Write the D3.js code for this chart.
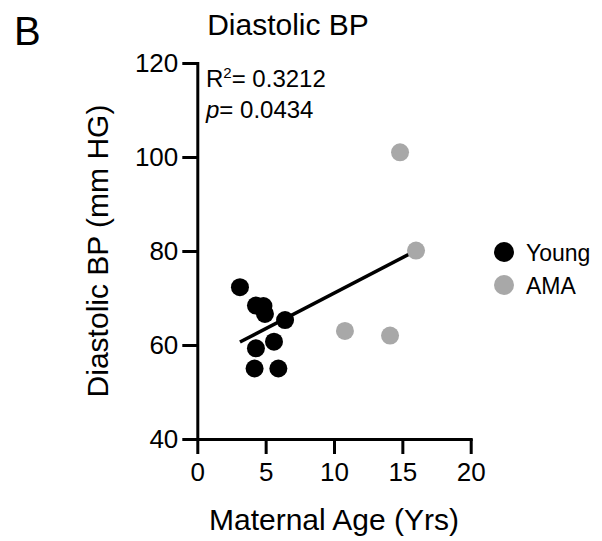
<!DOCTYPE html>
<html>
<head>
<meta charset="utf-8">
<script src="https://cdn.jsdelivr.net/npm/d3@7"></script>
<style>
  body { margin: 0; background: #fff; }
  text { font-family: "Liberation Sans", Arial, sans-serif; fill: #000; }
</style>
</head>
<body>
<div id="viz-container"></div>
<script>
// data
let youngAge = [4.29, 4.84, 4.95, 3.12, 6.42, 4.29, 5.61, 4.19, 5.93];
let youngBP  = [68.4, 68.3, 66.6, 72.3, 65.3, 59.3, 60.7, 55.0, 55.0];
let amaAge = [14.83, 16.0, 10.8, 14.1];
let amaBP  = [101.0, 80.1, 63.0, 62.0];
let xTicks = [0, 5, 10, 15, 20];
let yTicks = [40, 60, 80, 100, 120];
let groups = ['Young', 'AMA'];
let groupColors = ['#000000', '#a8a8a8'];
let statsText = ['0.3212', '0.0434'];

let width = 602;
let height = 541;

let viz = d3.select('#viz-container')
  .append('svg')
  .attr('width', width)
  .attr('height', height);

let xScale = d3.scaleLinear().domain([0, 20]).range([197.3, 470.7]);
let yScale = d3.scaleLinear().domain([40, 120]).range([439, 63]);

let young = youngAge.map((d, i) => ({x: d, y: youngBP[i], g: 0}));
let ama = amaAge.map((d, i) => ({x: d, y: amaBP[i], g: 1}));
let all = young.concat(ama);

// least squares fit over all points
let mx = d3.mean(all, d => d.x);
let my = d3.mean(all, d => d.y);
let sxy = d3.sum(all, d => (d.x - mx) * (d.y - my));
let sxx = d3.sum(all, d => (d.x - mx) * (d.x - mx));
let slope = sxy / sxx;
let intercept = my - slope * mx;
let xExt = d3.extent(all, d => d.x);

// axes
let yAxis = viz.append('g')
  .attr('transform', 'translate(' + xScale(0) + ',0)')
  .call(d3.axisLeft(yScale).tickValues(yTicks).tickSize(15).tickSizeOuter(0).tickPadding(4));

let xAxis = viz.append('g')
  .attr('transform', 'translate(0,' + yScale(40) + ')')
  .call(d3.axisBottom(xScale).tickValues(xTicks).tickSize(15).tickSizeOuter(0).tickPadding(9));

[yAxis, xAxis].forEach(function(ax){
  ax.select('.domain').attr('stroke', '#000').attr('stroke-width', 3).attr('stroke-linecap', 'square');
  ax.selectAll('.tick line').attr('stroke', '#000').attr('stroke-width', 3);
  ax.selectAll('.tick text')
    .attr('font-size', 26)
    .attr('font-family', '"Liberation Sans", Arial, sans-serif')
    .attr('fill', '#000');
});

// regression line
viz.append('line')
  .attr('x1', xScale(xExt[0]))
  .attr('y1', yScale(intercept + slope * xExt[0]))
  .attr('x2', xScale(xExt[1]))
  .attr('y2', yScale(intercept + slope * xExt[1]))
  .attr('stroke', '#000')
  .attr('stroke-width', 3.5);

// points
viz.selectAll('.dots').data(all).enter()
  .append('circle')
  .attr('class', 'dots')
  .attr('cx', d => xScale(d.x))
  .attr('cy', d => yScale(d.y))
  .attr('r', 9)
  .attr('fill', d => groupColors[d.g]);

// titles
viz.append('text')
  .text('B')
  .attr('x', 14)
  .attr('y', 45)
  .attr('font-size', 40);

viz.append('text')
  .text('Diastolic BP')
  .attr('x', 288)
  .attr('y', 35)
  .attr('text-anchor', 'middle')
  .attr('font-size', 30);

viz.append('text')
  .text('Maternal Age (Yrs)')
  .attr('x', (xScale(0) + xScale(20)) / 2)
  .attr('y', 530)
  .attr('text-anchor', 'middle')
  .attr('font-size', 30);

viz.append('text')
  .text('Diastolic BP (mm HG)')
  .attr('transform', 'translate(108,' + (yScale(40) + yScale(120)) / 2 + ') rotate(-90)')
  .attr('text-anchor', 'middle')
  .attr('font-size', 30);

// stats annotation
let r2 = viz.append('text')
  .attr('x', 206)
  .attr('y', 87)
  .attr('font-size', 24);
r2.append('tspan').text('R');
r2.append('tspan').text('2').attr('font-size', 15).attr('dy', -9);
r2.append('tspan').text('= ' + statsText[0]).attr('dy', 9);

let pv = viz.append('text')
  .attr('x', 206)
  .attr('y', 118)
  .attr('font-size', 24);
pv.append('tspan').text('p').attr('font-style', 'italic');
pv.append('tspan').text('= ' + statsText[1]);

// legend
let legend = viz.selectAll('.legend').data(groups).enter()
  .append('g')
  .attr('class', 'legend')
  .attr('transform', (d, i) => 'translate(504,' + (252 + i * 33) + ')');

legend.append('circle')
  .attr('r', 10)
  .attr('fill', (d, i) => groupColors[i]);

legend.append('text')
  .text(d => d)
  .attr('x', 22)
  .attr('y', 8.5)
  .attr('font-size', 23);
</script>
</body>
</html>
